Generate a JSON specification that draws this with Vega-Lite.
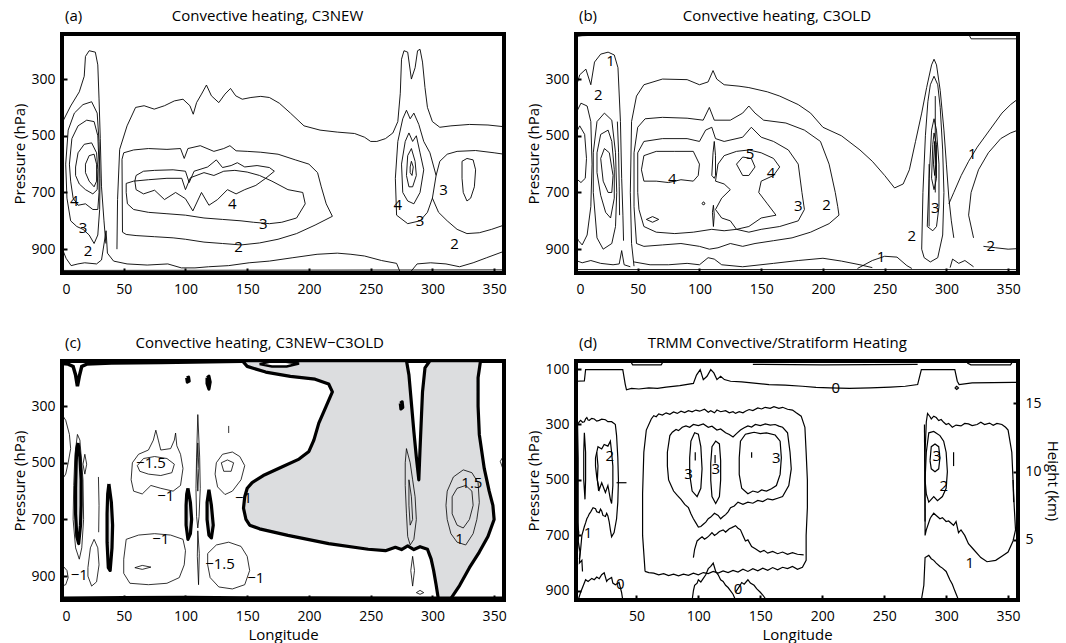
{
"$schema": "https://vega.github.io/schema/vega-lite/v6.json",
"padding": {"left": 10, "top": 7, "right": 5, "bottom": 2},
"config": {
 "font": "Open Sans",
 "view": {"stroke": "black", "strokeWidth": 4},
 "axis": {"labelFont": "Open Sans", "labelFontSize": 14, "labelColor": "black", "titleFont": "Open Sans", "titleFontSize": 15, "titleFontWeight": "normal", "titleColor": "black", "domain": false, "grid": false, "tickColor": "black", "tickWidth": 2, "tickSize": -5, "labelPadding": 12},
 "axisY": {"titlePadding": 3},
 "axisX": {"titlePadding": 4, "labelPadding": 14},
 "title": {"font": "Open Sans", "fontSize": 15, "fontWeight": "normal", "anchor": "start", "frame": "group", "color": "black", "offset": 10, "dx": 3},
 "text": {"font": "Open Sans", "fontSize": 15, "color": "black"}
},
"datasets": {
"A": [
{"g":"a1","x":0,"y":455},{"g":"a1","x":7,"y":395},{"g":"a1","x":14,"y":345},{"g":"a1","x":18,"y":290},{"g":"a1","x":19,"y":220},{"g":"a1","x":22,"y":200},{"g":"a1","x":27,"y":205},{"g":"a1","x":29,"y":250},{"g":"a1","x":30,"y":370},{"g":"a1","x":31,"y":510},{"g":"a1","x":32,"y":680},{"g":"a1","x":34,"y":800},{"g":"a1","x":35.5,"y":880},
{"g":"a2","x":3,"y":600},{"g":"a2","x":5,"y":480},{"g":"a2","x":10,"y":420},{"g":"a2","x":17,"y":390},{"g":"a2","x":24,"y":380},{"g":"a2","x":28.5,"y":420},{"g":"a2","x":30,"y":520},{"g":"a2","x":30.8,"y":650},{"g":"a2","x":30.5,"y":760},{"g":"a2","x":29,"y":850},{"g":"a2","x":26,"y":880},{"g":"a2","x":22,"y":850},{"g":"a2","x":17,"y":830},{"g":"a2","x":12,"y":820},{"g":"a2","x":7,"y":800},{"g":"a2","x":4,"y":720},{"g":"a2","x":3,"y":600},
{"g":"a3","x":6,"y":600},{"g":"a3","x":8,"y":510},{"g":"a3","x":13,"y":465},{"g":"a3","x":20,"y":445},{"g":"a3","x":26,"y":450},{"g":"a3","x":29,"y":500},{"g":"a3","x":30,"y":600},{"g":"a3","x":30,"y":700},{"g":"a3","x":29,"y":760},{"g":"a3","x":25,"y":760},{"g":"a3","x":19,"y":740},{"g":"a3","x":13,"y":745},{"g":"a3","x":9,"y":720},{"g":"a3","x":7,"y":660},{"g":"a3","x":6,"y":600},
{"g":"a4","x":11,"y":610},{"g":"a4","x":13,"y":560},{"g":"a4","x":18,"y":530},{"g":"a4","x":24,"y":525},{"g":"a4","x":28,"y":560},{"g":"a4","x":29,"y":620},{"g":"a4","x":28.5,"y":690},{"g":"a4","x":25,"y":705},{"g":"a4","x":19,"y":690},{"g":"a4","x":14,"y":670},{"g":"a4","x":11,"y":640},{"g":"a4","x":11,"y":610},
{"g":"a5","x":19,"y":600},{"g":"a5","x":22,"y":570},{"g":"a5","x":26,"y":565},{"g":"a5","x":28,"y":600},{"g":"a5","x":28,"y":660},{"g":"a5","x":26,"y":680},{"g":"a5","x":22,"y":660},{"g":"a5","x":19,"y":630},{"g":"a5","x":19,"y":600},
{"g":"ab","x":0,"y":896},{"g":"ab","x":3.3,"y":932},{"g":"ab","x":7.4,"y":958},{"g":"ab","x":12.9,"y":952},{"g":"ab","x":18.4,"y":948},{"g":"ab","x":28,"y":952},{"g":"ab","x":32,"y":938},{"g":"ab","x":35.7,"y":835},{"g":"ab","x":36.8,"y":914},{"g":"ab","x":41.8,"y":942},{"g":"ab","x":52.7,"y":952},{"g":"ab","x":69,"y":956},{"g":"ab","x":85.7,"y":952},{"g":"ab","x":96.7,"y":966},{"g":"ab","x":107.7,"y":966},{"g":"ab","x":118.7,"y":962},{"g":"ab","x":135,"y":958},{"g":"ab","x":151.6,"y":948},{"g":"ab","x":168,"y":942},{"g":"ab","x":187,"y":930},{"g":"ab","x":206.6,"y":918},{"g":"ab","x":223,"y":914},{"g":"ab","x":234,"y":918},{"g":"ab","x":245,"y":924},{"g":"ab","x":258.8,"y":940},{"g":"ab","x":271,"y":950},{"g":"ab","x":274,"y":982},{"g":"ab","x":282,"y":982},{"g":"ab","x":287.6,"y":952},{"g":"ab","x":298.6,"y":948},{"g":"ab","x":311,"y":952},{"g":"ab","x":322,"y":962},{"g":"ab","x":333,"y":948},{"g":"ab","x":344,"y":930},{"g":"ab","x":357.7,"y":908},
{"g":"ag","x":0,"y":975},{"g":"ag","x":358,"y":973},
{"g":"at","x":44.5,"y":900},{"g":"at","x":45,"y":725},{"g":"at","x":46.7,"y":548},{"g":"at","x":52.7,"y":465},{"g":"at","x":59.6,"y":400},{"g":"at","x":66.5,"y":394},{"g":"at","x":74.7,"y":406},{"g":"at","x":83,"y":394},{"g":"at","x":91,"y":377},{"g":"at","x":98,"y":371},{"g":"at","x":103.6,"y":394},{"g":"at","x":106.3,"y":424},{"g":"at","x":109,"y":383},{"g":"at","x":113,"y":353},{"g":"at","x":117,"y":321},{"g":"at","x":121,"y":359},{"g":"at","x":127,"y":383},{"g":"at","x":132,"y":353},{"g":"at","x":136.5,"y":333},{"g":"at","x":140.7,"y":359},{"g":"at","x":146,"y":371},{"g":"at","x":153,"y":365},{"g":"at","x":161,"y":361},{"g":"at","x":168,"y":365},{"g":"at","x":176,"y":385},{"g":"at","x":185,"y":420},{"g":"at","x":196,"y":465},{"g":"at","x":209,"y":480},{"g":"at","x":223,"y":487},{"g":"at","x":237,"y":492},{"g":"at","x":245,"y":505},{"g":"at","x":250,"y":520},{"g":"at","x":255,"y":520},{"g":"at","x":262,"y":510},{"g":"at","x":268,"y":490},{"g":"at","x":272,"y":450},{"g":"at","x":274,"y":350},{"g":"at","x":275,"y":230},{"g":"at","x":277,"y":200},{"g":"at","x":280,"y":205},{"g":"at","x":283,"y":300},{"g":"at","x":286,"y":260},{"g":"at","x":288,"y":200},{"g":"at","x":290,"y":195},{"g":"at","x":292,"y":240},{"g":"at","x":294,"y":330},{"g":"at","x":296,"y":400},{"g":"at","x":300,"y":450},{"g":"at","x":306,"y":470},{"g":"at","x":315,"y":465},{"g":"at","x":330,"y":460},{"g":"at","x":345,"y":462},{"g":"at","x":358,"y":468},
{"g":"am2","x":49,"y":840},{"g":"am2","x":48.6,"y":583},{"g":"am2","x":50,"y":560},{"g":"am2","x":58,"y":550},{"g":"am2","x":70,"y":545},{"g":"am2","x":85,"y":548},{"g":"am2","x":96,"y":545},{"g":"am2","x":99,"y":580},{"g":"am2","x":102,"y":545},{"g":"am2","x":112,"y":535},{"g":"am2","x":123,"y":555},{"g":"am2","x":131,"y":545},{"g":"am2","x":136,"y":535},{"g":"am2","x":141,"y":553},{"g":"am2","x":150,"y":555},{"g":"am2","x":161,"y":558},{"g":"am2","x":175,"y":565},{"g":"am2","x":189,"y":585},{"g":"am2","x":200,"y":600},{"g":"am2","x":207,"y":630},{"g":"am2","x":210,"y":680},{"g":"am2","x":214,"y":740},{"g":"am2","x":219,"y":784},{"g":"am2","x":205,"y":815},{"g":"am2","x":190,"y":845},{"g":"am2","x":175,"y":865},{"g":"am2","x":160,"y":878},{"g":"am2","x":145,"y":885},{"g":"am2","x":130,"y":880},{"g":"am2","x":115,"y":875},{"g":"am2","x":100,"y":865},{"g":"am2","x":90,"y":860},{"g":"am2","x":75,"y":856},{"g":"am2","x":60,"y":852},{"g":"am2","x":52,"y":848},{"g":"am2","x":49,"y":840},
{"g":"am3","x":52,"y":700},{"g":"am3","x":52,"y":668},{"g":"am3","x":58,"y":660},{"g":"am3","x":70,"y":655},{"g":"am3","x":85,"y":650},{"g":"am3","x":97,"y":650},{"g":"am3","x":100,"y":690},{"g":"am3","x":104,"y":648},{"g":"am3","x":115,"y":630},{"g":"am3","x":123,"y":640},{"g":"am3","x":131,"y":625},{"g":"am3","x":140,"y":622},{"g":"am3","x":150,"y":628},{"g":"am3","x":160,"y":640},{"g":"am3","x":170,"y":660},{"g":"am3","x":183,"y":690},{"g":"am3","x":195,"y":700},{"g":"am3","x":197,"y":740},{"g":"am3","x":190,"y":790},{"g":"am3","x":178,"y":805},{"g":"am3","x":168,"y":810},{"g":"am3","x":155,"y":805},{"g":"am3","x":145,"y":800},{"g":"am3","x":130,"y":795},{"g":"am3","x":115,"y":790},{"g":"am3","x":100,"y":780},{"g":"am3","x":85,"y":775},{"g":"am3","x":70,"y":770},{"g":"am3","x":58,"y":760},{"g":"am3","x":53,"y":740},{"g":"am3","x":52,"y":700},
{"g":"am4","x":60,"y":640},{"g":"am4","x":66,"y":625},{"g":"am4","x":75,"y":622},{"g":"am4","x":90,"y":620},{"g":"am4","x":100,"y":625},{"g":"am4","x":103,"y":665},{"g":"am4","x":107,"y":625},{"g":"am4","x":118,"y":610},{"g":"am4","x":125,"y":585},{"g":"am4","x":130,"y":612},{"g":"am4","x":137,"y":605},{"g":"am4","x":142,"y":595},{"g":"am4","x":148,"y":610},{"g":"am4","x":158,"y":605},{"g":"am4","x":168,"y":612},{"g":"am4","x":172,"y":625},{"g":"am4","x":165,"y":650},{"g":"am4","x":157,"y":675},{"g":"am4","x":148,"y":690},{"g":"am4","x":141,"y":705},{"g":"am4","x":134,"y":690},{"g":"am4","x":126,"y":725},{"g":"am4","x":119,"y":745},{"g":"am4","x":113,"y":700},{"g":"am4","x":106,"y":765},{"g":"am4","x":100,"y":722},{"g":"am4","x":92,"y":700},{"g":"am4","x":83,"y":725},{"g":"am4","x":75,"y":692},{"g":"am4","x":66,"y":705},{"g":"am4","x":60,"y":690},{"g":"am4","x":59,"y":660},{"g":"am4","x":60,"y":640},
{"g":"ar2","x":271,"y":780},{"g":"ar2","x":270,"y":650},{"g":"ar2","x":272,"y":520},{"g":"ar2","x":276,"y":440},{"g":"ar2","x":279,"y":410},{"g":"ar2","x":282,"y":440},{"g":"ar2","x":285,"y":420},{"g":"ar2","x":289,"y":460},{"g":"ar2","x":293,"y":520},{"g":"ar2","x":298,"y":560},{"g":"ar2","x":303,"y":640},{"g":"ar2","x":300,"y":720},{"g":"ar2","x":296,"y":770},{"g":"ar2","x":290,"y":800},{"g":"ar2","x":280,"y":810},{"g":"ar2","x":271,"y":780},
{"g":"ar3","x":276,"y":700},{"g":"ar3","x":275,"y":600},{"g":"ar3","x":278,"y":520},{"g":"ar3","x":281,"y":490},{"g":"ar3","x":284,"y":520},{"g":"ar3","x":287,"y":500},{"g":"ar3","x":290,"y":560},{"g":"ar3","x":293,"y":620},{"g":"ar3","x":290,"y":700},{"g":"ar3","x":285,"y":740},{"g":"ar3","x":280,"y":730},{"g":"ar3","x":276,"y":700},
{"g":"ar4","x":279,"y":640},{"g":"ar4","x":280,"y":570},{"g":"ar4","x":283,"y":545},{"g":"ar4","x":286,"y":590},{"g":"ar4","x":287,"y":640},{"g":"ar4","x":284,"y":680},{"g":"ar4","x":281,"y":680},{"g":"ar4","x":279,"y":640},
{"g":"ar5","x":282,"y":610},{"g":"ar5","x":283,"y":590},{"g":"ar5","x":284.5,"y":610},{"g":"ar5","x":283.5,"y":640},{"g":"ar5","x":282,"y":630},{"g":"ar5","x":282,"y":610},
{"g":"arr3","x":324,"y":590},{"g":"arr3","x":328,"y":580},{"g":"arr3","x":333,"y":585},{"g":"arr3","x":335,"y":620},{"g":"arr3","x":334,"y":680},{"g":"arr3","x":331,"y":720},{"g":"arr3","x":328,"y":730},{"g":"arr3","x":325,"y":700},{"g":"arr3","x":324,"y":650},{"g":"arr3","x":324,"y":590},
{"g":"arr2","x":303,"y":640},{"g":"arr2","x":306,"y":590},{"g":"arr2","x":312,"y":565},{"g":"arr2","x":320,"y":555},{"g":"arr2","x":335,"y":552},{"g":"arr2","x":350,"y":560},{"g":"arr2","x":358,"y":565},
{"g":"arr2b","x":300,"y":720},{"g":"arr2b","x":305,"y":770},{"g":"arr2b","x":312,"y":800},{"g":"arr2b","x":320,"y":830},{"g":"arr2b","x":328,"y":845},{"g":"arr2b","x":338,"y":842},{"g":"arr2b","x":348,"y":830},{"g":"arr2b","x":358,"y":815}
],
"B": [
{"g":"btl","x":0,"y":150},{"g":"btl","x":5,"y":147},{"g":"btl","x":12,"y":146},
{"g":"btr","x":318,"y":141},{"g":"btr","x":320,"y":158},{"g":"btr","x":358,"y":158},
{"g":"bl1","x":0,"y":330},{"g":"bl1","x":3,"y":285},{"g":"bl1","x":8,"y":265},{"g":"bl1","x":12,"y":320},{"g":"bl1","x":15,"y":240},{"g":"bl1","x":20,"y":212},{"g":"bl1","x":26,"y":205},{"g":"bl1","x":31,"y":215},{"g":"bl1","x":34,"y":260},{"g":"bl1","x":36,"y":450},{"g":"bl1","x":37,"y":650},{"g":"bl1","x":38,"y":780},{"g":"bl1","x":38.5,"y":870},
{"g":"bll2","x":0,"y":420},{"g":"bll2","x":4,"y":385},{"g":"bll2","x":9,"y":395},{"g":"bll2","x":12,"y":450},{"g":"bll2","x":13,"y":600},{"g":"bll2","x":12,"y":750},{"g":"bll2","x":9,"y":850},{"g":"bll2","x":5,"y":885},{"g":"bll2","x":2,"y":870},{"g":"bll2","x":0,"y":850},
{"g":"bll3","x":0,"y":490},{"g":"bll3","x":3,"y":465},{"g":"bll3","x":7,"y":495},{"g":"bll3","x":8.5,"y":580},{"g":"bll3","x":7.5,"y":650},{"g":"bll3","x":4,"y":665},{"g":"bll3","x":0,"y":650},
{"g":"blr2","x":14,"y":560},{"g":"blr2","x":17,"y":450},{"g":"blr2","x":23,"y":420},{"g":"blr2","x":29,"y":445},{"g":"blr2","x":32,"y":560},{"g":"blr2","x":33,"y":700},{"g":"blr2","x":32,"y":820},{"g":"blr2","x":29,"y":880},{"g":"blr2","x":22,"y":900},{"g":"blr2","x":17,"y":860},{"g":"blr2","x":14,"y":700},{"g":"blr2","x":14,"y":560},
{"g":"blr3","x":17,"y":560},{"g":"blr3","x":20,"y":495},{"g":"blr3","x":26,"y":480},{"g":"blr3","x":29,"y":520},{"g":"blr3","x":31,"y":620},{"g":"blr3","x":31,"y":720},{"g":"blr3","x":28,"y":790},{"g":"blr3","x":24,"y":770},{"g":"blr3","x":20,"y":710},{"g":"blr3","x":17,"y":630},{"g":"blr3","x":17,"y":560},
{"g":"blr4","x":20,"y":580},{"g":"blr4","x":23,"y":545},{"g":"blr4","x":27,"y":560},{"g":"blr4","x":30,"y":640},{"g":"blr4","x":29,"y":700},{"g":"blr4","x":26,"y":700},{"g":"blr4","x":22,"y":660},{"g":"blr4","x":20,"y":580},
{"g":"blx","x":33.5,"y":450},{"g":"blx","x":34.5,"y":560},{"g":"blx","x":35,"y":680},{"g":"blx","x":35.3,"y":780},
{"g":"bbl","x":0,"y":940},{"g":"bbl","x":5,"y":948},{"g":"bbl","x":12,"y":940},{"g":"bbl","x":20,"y":950},{"g":"bbl","x":30,"y":955},{"g":"bbl","x":35,"y":952},{"g":"bbl","x":37,"y":905},{"g":"bbl","x":39,"y":955},{"g":"bbl","x":44,"y":962},
{"g":"bm1","x":47,"y":960},{"g":"bm1","x":45,"y":880},{"g":"bm1","x":44,"y":700},{"g":"bm1","x":45,"y":450},{"g":"bm1","x":49,"y":360},{"g":"bm1","x":55,"y":320},{"g":"bm1","x":70,"y":300},{"g":"bm1","x":90,"y":302},{"g":"bm1","x":100,"y":320},{"g":"bm1","x":107,"y":310},{"g":"bm1","x":111,"y":270},{"g":"bm1","x":114,"y":300},{"g":"bm1","x":120,"y":320},{"g":"bm1","x":132,"y":325},{"g":"bm1","x":140,"y":330},{"g":"bm1","x":155,"y":345},{"g":"bm1","x":165,"y":360},{"g":"bm1","x":180,"y":390},{"g":"bm1","x":190,"y":420},{"g":"bm1","x":200,"y":470},{"g":"bm1","x":215,"y":500},{"g":"bm1","x":230,"y":550},{"g":"bm1","x":240,"y":590},{"g":"bm1","x":250,"y":640},{"g":"bm1","x":258,"y":684},{"g":"bm1","x":265,"y":670},{"g":"bm1","x":270,"y":620},{"g":"bm1","x":275,"y":520},{"g":"bm1","x":280,"y":420},{"g":"bm1","x":284,"y":330},{"g":"bm1","x":288,"y":250},{"g":"bm1","x":290,"y":230},{"g":"bm1","x":292,"y":250},{"g":"bm1","x":295,"y":340},{"g":"bm1","x":298,"y":480},{"g":"bm1","x":300,"y":600},{"g":"bm1","x":302,"y":720},{"g":"bm1","x":304,"y":800},{"g":"bm1","x":306,"y":860},
{"g":"br1","x":302,"y":740},{"g":"br1","x":306,"y":700},{"g":"br1","x":312,"y":640},{"g":"br1","x":318,"y":590},{"g":"br1","x":325,"y":540},{"g":"br1","x":335,"y":480},{"g":"br1","x":345,"y":420},{"g":"br1","x":352,"y":390},{"g":"br1","x":358,"y":370},
{"g":"br2","x":322,"y":860},{"g":"br2","x":318,"y":780},{"g":"br2","x":320,"y":700},{"g":"br2","x":326,"y":620},{"g":"br2","x":334,"y":560},{"g":"br2","x":344,"y":510},{"g":"br2","x":352,"y":490},{"g":"br2","x":358,"y":480},
{"g":"br2b","x":330,"y":890},{"g":"br2b","x":340,"y":895},{"g":"br2b","x":350,"y":900},{"g":"br2b","x":358,"y":898},
{"g":"bm2","x":49,"y":880},{"g":"bm2","x":47,"y":750},{"g":"bm2","x":47,"y":560},{"g":"bm2","x":50,"y":470},{"g":"bm2","x":56,"y":440},{"g":"bm2","x":70,"y":435},{"g":"bm2","x":90,"y":438},{"g":"bm2","x":103,"y":445},{"g":"bm2","x":108,"y":400},{"g":"bm2","x":112,"y":445},{"g":"bm2","x":125,"y":445},{"g":"bm2","x":135,"y":420},{"g":"bm2","x":140,"y":395},{"g":"bm2","x":145,"y":420},{"g":"bm2","x":152,"y":445},{"g":"bm2","x":170,"y":455},{"g":"bm2","x":185,"y":480},{"g":"bm2","x":198,"y":520},{"g":"bm2","x":205,"y":600},{"g":"bm2","x":210,"y":700},{"g":"bm2","x":212,"y":750},{"g":"bm2","x":213,"y":780},{"g":"bm2","x":205,"y":810},{"g":"bm2","x":190,"y":840},{"g":"bm2","x":175,"y":860},{"g":"bm2","x":160,"y":870},{"g":"bm2","x":145,"y":880},{"g":"bm2","x":135,"y":890},{"g":"bm2","x":125,"y":880},{"g":"bm2","x":115,"y":895},{"g":"bm2","x":108,"y":900},{"g":"bm2","x":100,"y":890},{"g":"bm2","x":85,"y":880},{"g":"bm2","x":70,"y":885},{"g":"bm2","x":55,"y":890},{"g":"bm2","x":49,"y":880},
{"g":"bm3","x":50,"y":700},{"g":"bm3","x":50,"y":560},{"g":"bm3","x":55,"y":520},{"g":"bm3","x":70,"y":510},{"g":"bm3","x":90,"y":510},{"g":"bm3","x":100,"y":520},{"g":"bm3","x":105,"y":480},{"g":"bm3","x":110,"y":470},{"g":"bm3","x":113,"y":510},{"g":"bm3","x":120,"y":520},{"g":"bm3","x":135,"y":505},{"g":"bm3","x":142,"y":470},{"g":"bm3","x":150,"y":505},{"g":"bm3","x":160,"y":520},{"g":"bm3","x":172,"y":550},{"g":"bm3","x":180,"y":600},{"g":"bm3","x":183,"y":700},{"g":"bm3","x":185,"y":760},{"g":"bm3","x":180,"y":800},{"g":"bm3","x":165,"y":820},{"g":"bm3","x":150,"y":830},{"g":"bm3","x":140,"y":840},{"g":"bm3","x":130,"y":830},{"g":"bm3","x":120,"y":835},{"g":"bm3","x":110,"y":830},{"g":"bm3","x":95,"y":840},{"g":"bm3","x":80,"y":845},{"g":"bm3","x":65,"y":840},{"g":"bm3","x":55,"y":820},{"g":"bm3","x":51,"y":760},{"g":"bm3","x":50,"y":700},
{"g":"bm4","x":53,"y":620},{"g":"bm4","x":55,"y":570},{"g":"bm4","x":65,"y":555},{"g":"bm4","x":80,"y":555},{"g":"bm4","x":95,"y":555},{"g":"bm4","x":100,"y":600},{"g":"bm4","x":99,"y":640},{"g":"bm4","x":95,"y":660},{"g":"bm4","x":85,"y":655},{"g":"bm4","x":75,"y":665},{"g":"bm4","x":65,"y":660},{"g":"bm4","x":55,"y":660},{"g":"bm4","x":53,"y":620},
{"g":"bm4b","x":113,"y":660},{"g":"bm4b","x":115,"y":600},{"g":"bm4b","x":120,"y":570},{"g":"bm4b","x":130,"y":555},{"g":"bm4b","x":140,"y":550},{"g":"bm4b","x":150,"y":560},{"g":"bm4b","x":160,"y":580},{"g":"bm4b","x":165,"y":610},{"g":"bm4b","x":160,"y":640},{"g":"bm4b","x":150,"y":660},{"g":"bm4b","x":148,"y":700},{"g":"bm4b","x":155,"y":740},{"g":"bm4b","x":162,"y":780},{"g":"bm4b","x":150,"y":790},{"g":"bm4b","x":140,"y":820},{"g":"bm4b","x":130,"y":830},{"g":"bm4b","x":125,"y":800},{"g":"bm4b","x":118,"y":790},{"g":"bm4b","x":113,"y":760},{"g":"bm4b","x":118,"y":720},{"g":"bm4b","x":125,"y":690},{"g":"bm4b","x":120,"y":670},{"g":"bm4b","x":113,"y":660},
{"g":"bm5","x":130,"y":600},{"g":"bm5","x":135,"y":575},{"g":"bm5","x":142,"y":580},{"g":"bm5","x":145,"y":610},{"g":"bm5","x":140,"y":640},{"g":"bm5","x":135,"y":640},{"g":"bm5","x":130,"y":600},
{"g":"bs1","x":57,"y":795},{"g":"bs1","x":62,"y":785},{"g":"bs1","x":67,"y":795},{"g":"bs1","x":62,"y":805},{"g":"bs1","x":57,"y":795},
{"g":"bs2","x":102,"y":738},{"g":"bs2","x":103.5,"y":733},{"g":"bs2","x":104.5,"y":740},{"g":"bs2","x":103,"y":744},{"g":"bs2","x":102,"y":738},
{"g":"bln1","x":110,"y":640},{"g":"bln1","x":111,"y":560},{"g":"bln1","x":112,"y":520},{"g":"bln1","x":113,"y":570},{"g":"bln1","x":113,"y":640},{"g":"bln1","x":112,"y":650},{"g":"bln1","x":110,"y":640},
{"g":"bln2","x":110.5,"y":770},{"g":"bln2","x":111.3,"y":745},{"g":"bln2","x":112,"y":780},{"g":"bln2","x":111.3,"y":820},{"g":"bln2","x":110.5,"y":770},
{"g":"bbm","x":47,"y":945},{"g":"bbm","x":60,"y":955},{"g":"bbm","x":75,"y":955},{"g":"bbm","x":90,"y":950},{"g":"bbm","x":100,"y":955},{"g":"bbm","x":107,"y":930},{"g":"bbm","x":112,"y":935},{"g":"bbm","x":118,"y":955},{"g":"bbm","x":135,"y":962},{"g":"bbm","x":160,"y":950},{"g":"bbm","x":180,"y":940},{"g":"bbm","x":200,"y":932},{"g":"bbm","x":215,"y":942},{"g":"bbm","x":230,"y":955},{"g":"bbm","x":240,"y":965},
{"g":"bbu","x":228,"y":968},{"g":"bbu","x":240,"y":940},{"g":"bbu","x":250,"y":925},{"g":"bbu","x":260,"y":928},{"g":"bbu","x":268,"y":958},{"g":"bbu","x":272,"y":968},
{"g":"bbr","x":303,"y":965},{"g":"bbr","x":305,"y":935},{"g":"bbr","x":310,"y":950},{"g":"bbr","x":315,"y":940},{"g":"bbr","x":322,"y":962},
{"g":"bgr","x":0,"y":972},{"g":"bgr","x":358,"y":972},
{"g":"brc2","x":280,"y":900},{"g":"brc2","x":281,"y":700},{"g":"brc2","x":283,"y":500},{"g":"brc2","x":285,"y":380},{"g":"brc2","x":287,"y":320},{"g":"brc2","x":290,"y":290},{"g":"brc2","x":293,"y":320},{"g":"brc2","x":295,"y":400},{"g":"brc2","x":297,"y":550},{"g":"brc2","x":298,"y":700},{"g":"brc2","x":297,"y":850},{"g":"brc2","x":293,"y":930},{"g":"brc2","x":287,"y":945},{"g":"brc2","x":282,"y":930},{"g":"brc2","x":280,"y":900},
{"g":"brc3","x":284.5,"y":820},{"g":"brc3","x":286,"y":650},{"g":"brc3","x":288,"y":480},{"g":"brc3","x":290,"y":440},{"g":"brc3","x":292,"y":480},{"g":"brc3","x":294,"y":600},{"g":"brc3","x":294,"y":750},{"g":"brc3","x":292,"y":820},{"g":"brc3","x":289,"y":835},{"g":"brc3","x":284.5,"y":820},
{"g":"brc4","x":288,"y":650},{"g":"brc4","x":289,"y":530},{"g":"brc4","x":290,"y":490},{"g":"brc4","x":292,"y":530},{"g":"brc4","x":292,"y":650},{"g":"brc4","x":290,"y":690},{"g":"brc4","x":288,"y":650},
{"g":"brc5","x":289.5,"y":600},{"g":"brc5","x":290.5,"y":520},{"g":"brc5","x":291.5,"y":600},{"g":"brc5","x":290.5,"y":640},{"g":"brc5","x":289.5,"y":600},
{"g":"brl1","x":291,"y":360},{"g":"brl1","x":291,"y":700},
{"g":"brl2","x":286,"y":600},{"g":"brl2","x":286,"y":820}
],
"CF": [
{"g":"f1","x":146,"y":140},{"g":"f1","x":150,"y":160},{"g":"f1","x":165,"y":180},{"g":"f1","x":185,"y":195},{"g":"f1","x":205,"y":205},{"g":"f1","x":216,"y":222},{"g":"f1","x":219,"y":250},{"g":"f1","x":214,"y":300},{"g":"f1","x":208,"y":360},{"g":"f1","x":204,"y":420},{"g":"f1","x":200,"y":460},{"g":"f1","x":192,"y":487},{"g":"f1","x":178,"y":515},{"g":"f1","x":163,"y":545},{"g":"f1","x":154,"y":570},{"g":"f1","x":150,"y":590},{"g":"f1","x":148,"y":620},{"g":"f1","x":147,"y":660},{"g":"f1","x":149,"y":700},{"g":"f1","x":152,"y":720},{"g":"f1","x":160,"y":733},{"g":"f1","x":183,"y":756},{"g":"f1","x":216,"y":785},{"g":"f1","x":248,"y":805},{"g":"f1","x":262,"y":810},{"g":"f1","x":270,"y":798},{"g":"f1","x":275,"y":806},{"g":"f1","x":280,"y":793},{"g":"f1","x":285,"y":806},{"g":"f1","x":290,"y":796},{"g":"f1","x":296,"y":805},{"g":"f1","x":299,"y":840},{"g":"f1","x":301,"y":880},{"g":"f1","x":303,"y":930},{"g":"f1","x":305,"y":985},{"g":"f1","x":314,"y":985},{"g":"f1","x":322,"y":933},{"g":"f1","x":330,"y":870},{"g":"f1","x":338,"y":815},{"g":"f1","x":345,"y":760},{"g":"f1","x":350,"y":700},{"g":"f1","x":349,"y":650},{"g":"f1","x":346,"y":600},{"g":"f1","x":342,"y":520},{"g":"f1","x":338,"y":400},{"g":"f1","x":337,"y":300},{"g":"f1","x":337,"y":200},{"g":"f1","x":339,"y":140},{"g":"f1","x":298,"y":140},{"g":"f1","x":294,"y":165},{"g":"f1","x":292,"y":250},{"g":"f1","x":291,"y":350},{"g":"f1","x":290,"y":450},{"g":"f1","x":289,"y":560},{"g":"f1","x":287,"y":480},{"g":"f1","x":285,"y":390},{"g":"f1","x":283,"y":290},{"g":"f1","x":281,"y":190},{"g":"f1","x":279,"y":140},{"g":"f1","x":146,"y":140},
{"g":"l1","x":13,"y":430},{"g":"l1","x":14.5,"y":480},{"g":"l1","x":15.5,"y":560},{"g":"l1","x":15.5,"y":650},{"g":"l1","x":15,"y":720},{"g":"l1","x":13.5,"y":785},{"g":"l1","x":12,"y":760},{"g":"l1","x":11,"y":680},{"g":"l1","x":11,"y":590},{"g":"l1","x":11.5,"y":500},{"g":"l1","x":12,"y":450},{"g":"l1","x":13,"y":430},
{"g":"l2","x":38,"y":575},{"g":"l2","x":40,"y":640},{"g":"l2","x":41,"y":720},{"g":"l2","x":40.5,"y":800},{"g":"l2","x":39,"y":880},{"g":"l2","x":37.5,"y":870},{"g":"l2","x":36.5,"y":780},{"g":"l2","x":36.5,"y":680},{"g":"l2","x":37,"y":610},{"g":"l2","x":38,"y":575},
{"g":"l3","x":102,"y":590},{"g":"l3","x":104,"y":640},{"g":"l3","x":105,"y":700},{"g":"l3","x":104,"y":750},{"g":"l3","x":102,"y":770},{"g":"l3","x":100.5,"y":720},{"g":"l3","x":100.5,"y":650},{"g":"l3","x":101,"y":610},{"g":"l3","x":102,"y":590},
{"g":"l4","x":119,"y":595},{"g":"l4","x":121,"y":650},{"g":"l4","x":122.5,"y":720},{"g":"l4","x":121,"y":765},{"g":"l4","x":119,"y":755},{"g":"l4","x":117.5,"y":700},{"g":"l4","x":117.5,"y":640},{"g":"l4","x":119,"y":595},
{"g":"d1","x":101,"y":200},{"g":"d1","x":102.5,"y":198},{"g":"d1","x":103,"y":212},{"g":"d1","x":101.5,"y":215},{"g":"d1","x":101,"y":200},
{"g":"d2","x":117.5,"y":200},{"g":"d2","x":119,"y":195},{"g":"d2","x":120,"y":215},{"g":"d2","x":119,"y":240},{"g":"d2","x":117.5,"y":220},{"g":"d2","x":117.5,"y":200},
{"g":"d3","x":274,"y":290},{"g":"d3","x":275.5,"y":285},{"g":"d3","x":276,"y":305},{"g":"d3","x":274.5,"y":310},{"g":"d3","x":274,"y":290}
],
"CW": [
{"g":"w1","x":160,"y":152},{"g":"w1","x":168,"y":144},{"g":"w1","x":180,"y":143},{"g":"w1","x":192,"y":150},{"g":"w1","x":182,"y":160},{"g":"w1","x":170,"y":160},{"g":"w1","x":160,"y":152}
],
"CT": [
{"g":"t1","x":0,"y":150},{"g":"t1","x":5,"y":152},{"g":"t1","x":9,"y":160},{"g":"t1","x":11,"y":190},{"g":"t1","x":12.5,"y":230},{"g":"t1","x":14,"y":195},{"g":"t1","x":16,"y":160},{"g":"t1","x":20,"y":152},{"g":"t1","x":40,"y":148},{"g":"t1","x":80,"y":146},{"g":"t1","x":146,"y":142},
{"g":"t2","x":0,"y":978},{"g":"t2","x":50,"y":976},{"g":"t2","x":100,"y":975},{"g":"t2","x":150,"y":977},{"g":"t2","x":200,"y":977},{"g":"t2","x":305,"y":978},{"g":"t2","x":358,"y":978}
],
"C": [
{"g":"c1","x":57,"y":500},{"g":"c1","x":62,"y":470},{"g":"c1","x":70,"y":455},{"g":"c1","x":74,"y":420},{"g":"c1","x":76,"y":385},{"g":"c1","x":78,"y":420},{"g":"c1","x":80,"y":455},{"g":"c1","x":88,"y":450},{"g":"c1","x":91,"y":420},{"g":"c1","x":92,"y":395},{"g":"c1","x":93,"y":440},{"g":"c1","x":96,"y":470},{"g":"c1","x":98,"y":520},{"g":"c1","x":96,"y":580},{"g":"c1","x":90,"y":600},{"g":"c1","x":80,"y":590},{"g":"c1","x":72,"y":580},{"g":"c1","x":65,"y":610},{"g":"c1","x":58,"y":600},{"g":"c1","x":56,"y":560},{"g":"c1","x":57,"y":500},
{"g":"c2","x":61,"y":510},{"g":"c2","x":66,"y":485},{"g":"c2","x":75,"y":478},{"g":"c2","x":85,"y":485},{"g":"c2","x":91,"y":505},{"g":"c2","x":89,"y":535},{"g":"c2","x":80,"y":545},{"g":"c2","x":70,"y":540},{"g":"c2","x":63,"y":530},{"g":"c2","x":61,"y":510},
{"g":"c4","x":50,"y":840},{"g":"c4","x":52,"y":770},{"g":"c4","x":62,"y":755},{"g":"c4","x":75,"y":750},{"g":"c4","x":88,"y":755},{"g":"c4","x":98,"y":770},{"g":"c4","x":100,"y":810},{"g":"c4","x":99,"y":860},{"g":"c4","x":95,"y":905},{"g":"c4","x":85,"y":925},{"g":"c4","x":70,"y":930},{"g":"c4","x":55,"y":925},{"g":"c4","x":50,"y":890},{"g":"c4","x":50,"y":840},
{"g":"c5","x":59,"y":870},{"g":"c5","x":65,"y":862},{"g":"c5","x":72,"y":868},{"g":"c5","x":65,"y":876},{"g":"c5","x":59,"y":870},
{"g":"c6","x":110,"y":330},{"g":"c6","x":111.5,"y":480},{"g":"c6","x":112,"y":590},{"g":"c6","x":111,"y":690},{"g":"c6","x":110,"y":730},{"g":"c6","x":109,"y":690},{"g":"c6","x":108.5,"y":590},{"g":"c6","x":109,"y":480},{"g":"c6","x":110,"y":330},
{"g":"c6b","x":110,"y":740},{"g":"c6b","x":111.2,"y":820},{"g":"c6b","x":110.6,"y":930},{"g":"c6b","x":109.6,"y":830},{"g":"c6b","x":110,"y":740},
{"g":"c6c","x":110,"y":430},{"g":"c6c","x":110.8,"y":520},{"g":"c6c","x":110,"y":600},{"g":"c6c","x":109.3,"y":520},{"g":"c6c","x":110,"y":430},
{"g":"c7","x":125,"y":500},{"g":"c7","x":130,"y":470},{"g":"c7","x":138,"y":462},{"g":"c7","x":144,"y":478},{"g":"c7","x":148,"y":510},{"g":"c7","x":145,"y":560},{"g":"c7","x":138,"y":600},{"g":"c7","x":132,"y":612},{"g":"c7","x":126,"y":585},{"g":"c7","x":124,"y":540},{"g":"c7","x":125,"y":500},
{"g":"c8","x":129,"y":500},{"g":"c8","x":134,"y":490},{"g":"c8","x":139,"y":500},{"g":"c8","x":137,"y":530},{"g":"c8","x":131,"y":530},{"g":"c8","x":129,"y":500},
{"g":"c9","x":118,"y":820},{"g":"c9","x":125,"y":790},{"g":"c9","x":135,"y":780},{"g":"c9","x":145,"y":795},{"g":"c9","x":150,"y":830},{"g":"c9","x":152,"y":880},{"g":"c9","x":148,"y":930},{"g":"c9","x":138,"y":945},{"g":"c9","x":127,"y":938},{"g":"c9","x":120,"y":905},{"g":"c9","x":118,"y":860},{"g":"c9","x":118,"y":820},
{"g":"c10","x":135,"y":370},{"g":"c10","x":135,"y":395},
{"g":"c11","x":0,"y":330},{"g":"c11","x":3,"y":350},{"g":"c11","x":6,"y":400},{"g":"c11","x":7,"y":450},{"g":"c11","x":5,"y":500},{"g":"c11","x":3,"y":540},{"g":"c11","x":0,"y":560},
{"g":"c12","x":17,"y":505},{"g":"c12","x":18.5,"y":470},{"g":"c12","x":20,"y":505},{"g":"c12","x":18.5,"y":540},{"g":"c12","x":17,"y":505},
{"g":"c13","x":0,"y":860},{"g":"c13","x":4,"y":880},{"g":"c13","x":5,"y":905},{"g":"c13","x":3,"y":930},{"g":"c13","x":0,"y":935},
{"g":"c14","x":9,"y":700},{"g":"c14","x":9.5,"y":580},{"g":"c14","x":10.5,"y":470},{"g":"c14","x":12.5,"y":400},{"g":"c14","x":14.5,"y":420},{"g":"c14","x":17,"y":560},{"g":"c14","x":17.5,"y":700},{"g":"c14","x":16,"y":800},{"g":"c14","x":14,"y":840},{"g":"c14","x":11,"y":800},{"g":"c14","x":9,"y":700},
{"g":"c15","x":21,"y":870},{"g":"c15","x":23,"y":800},{"g":"c15","x":26,"y":770},{"g":"c15","x":29,"y":800},{"g":"c15","x":30,"y":860},{"g":"c15","x":28,"y":920},{"g":"c15","x":24,"y":935},{"g":"c15","x":21,"y":900},{"g":"c15","x":21,"y":870},
{"g":"c16","x":29.5,"y":550},{"g":"c16","x":30,"y":650},{"g":"c16","x":29.7,"y":745},
{"g":"cr1","x":279,"y":450},{"g":"cr1","x":282,"y":500},{"g":"cr1","x":284,"y":560},{"g":"cr1","x":286,"y":620},{"g":"cr1","x":287,"y":700},{"g":"cr1","x":285,"y":770},{"g":"cr1","x":282,"y":790},{"g":"cr1","x":280,"y":760},{"g":"cr1","x":279,"y":680},{"g":"cr1","x":278,"y":580},{"g":"cr1","x":278,"y":500},{"g":"cr1","x":279,"y":450},
{"g":"cr1b","x":281,"y":560},{"g":"cr1b","x":283,"y":620},{"g":"cr1b","x":284,"y":700},{"g":"cr1b","x":282,"y":720},{"g":"cr1b","x":281,"y":650},{"g":"cr1b","x":281,"y":560},
{"g":"cr2","x":284,"y":830},{"g":"cr2","x":285.5,"y":880},{"g":"cr2","x":284,"y":935},{"g":"cr2","x":282.5,"y":880},{"g":"cr2","x":284,"y":830},
{"g":"cr3","x":312,"y":600},{"g":"cr3","x":317,"y":550},{"g":"cr3","x":325,"y":525},{"g":"cr3","x":332,"y":535},{"g":"cr3","x":337,"y":570},{"g":"cr3","x":338,"y":640},{"g":"cr3","x":336,"y":700},{"g":"cr3","x":333,"y":750},{"g":"cr3","x":327,"y":790},{"g":"cr3","x":320,"y":780},{"g":"cr3","x":315,"y":750},{"g":"cr3","x":312,"y":700},{"g":"cr3","x":311,"y":650},{"g":"cr3","x":312,"y":600},
{"g":"cr3b","x":316,"y":620},{"g":"cr3b","x":320,"y":590},{"g":"cr3b","x":327,"y":580},{"g":"cr3b","x":332,"y":600},{"g":"cr3b","x":333,"y":650},{"g":"cr3b","x":330,"y":700},{"g":"cr3b","x":325,"y":730},{"g":"cr3b","x":320,"y":720},{"g":"cr3b","x":316,"y":680},{"g":"cr3b","x":316,"y":620},
{"g":"cr4","x":355,"y":495},{"g":"cr4","x":357,"y":480},{"g":"cr4","x":358,"y":500},{"g":"cr4","x":357,"y":520},{"g":"cr4","x":355,"y":495},
{"g":"cr5","x":287,"y":958},{"g":"cr5","x":290,"y":950},{"g":"cr5","x":293,"y":958},{"g":"cr5","x":290,"y":964},{"g":"cr5","x":287,"y":958}
],
"D": [
{"g":"dz","x":1.5,"y":144},{"g":"dz","x":8,"y":143},{"g":"dz","x":9,"y":102},{"g":"dz","x":39,"y":102},{"g":"dz","x":41,"y":155},{"g":"dz","x":42,"y":175},{"g":"dz","x":46,"y":170},{"g":"dz","x":52,"y":172},{"g":"dz","x":60,"y":168},{"g":"dz","x":67,"y":170},{"g":"dz","x":74,"y":165},{"g":"dz","x":85,"y":160},{"g":"dz","x":96,"y":152},{"g":"dz","x":98.5,"y":122},{"g":"dz","x":101.5,"y":102},{"g":"dz","x":104,"y":138},{"g":"dz","x":107,"y":126},{"g":"dz","x":110,"y":102},{"g":"dz","x":112.5,"y":114},{"g":"dz","x":115,"y":138},{"g":"dz","x":118,"y":126},{"g":"dz","x":121,"y":138},{"g":"dz","x":126,"y":144},{"g":"dz","x":135,"y":146},{"g":"dz","x":143,"y":150},{"g":"dz","x":157,"y":156},{"g":"dz","x":170,"y":158},{"g":"dz","x":184,"y":162},{"g":"dz","x":195,"y":166},{"g":"dz","x":206,"y":168},{"g":"dz","x":222,"y":170},{"g":"dz","x":239,"y":168},{"g":"dz","x":255,"y":165},{"g":"dz","x":267,"y":162},{"g":"dz","x":277,"y":156},{"g":"dz","x":280,"y":102},{"g":"dz","x":307,"y":102},{"g":"dz","x":309,"y":144},{"g":"dz","x":310.5,"y":156},{"g":"dz","x":321,"y":150},{"g":"dz","x":338,"y":149},{"g":"dz","x":354,"y":148},{"g":"dz","x":358,"y":148},
{"g":"dt1","x":46,"y":78},{"g":"dt1","x":47,"y":85},{"g":"dt1","x":70,"y":85},{"g":"dt1","x":71,"y":78},
{"g":"dt2","x":144,"y":83},{"g":"dt2","x":200,"y":85},{"g":"dt2","x":277,"y":83},
{"g":"dt3","x":317,"y":78},{"g":"dt3","x":320,"y":85},{"g":"dt3","x":352,"y":85},{"g":"dt3","x":353,"y":78},
{"g":"ddm","x":307,"y":168},{"g":"ddm","x":308.5,"y":162},{"g":"ddm","x":310,"y":168},{"g":"ddm","x":308.5,"y":174},{"g":"ddm","x":307,"y":168},
{"g":"dl1","x":2,"y":790},{"g":"dl1","x":3,"y":720},{"g":"dl1","x":3,"y":600},{"g":"dl1","x":3,"y":420},{"g":"dl1","x":2.5,"y":300},{"g":"dl1","x":4,"y":290},{"g":"dl1","x":5,"y":285},{"g":"dl1","x":6.5,"y":292},{"g":"dl1","x":8,"y":290},{"g":"dl1","x":9,"y":280},{"g":"dl1","x":10,"y":275},{"g":"dl1","x":11,"y":284},{"g":"dl1","x":12,"y":285},{"g":"dl1","x":14,"y":278},{"g":"dl1","x":16,"y":280},{"g":"dl1","x":18,"y":288},{"g":"dl1","x":20,"y":285},{"g":"dl1","x":22,"y":281},{"g":"dl1","x":25,"y":283},{"g":"dl1","x":27,"y":290},{"g":"dl1","x":30,"y":290},{"g":"dl1","x":32,"y":296},{"g":"dl1","x":33,"y":300},{"g":"dl1","x":34,"y":340},{"g":"dl1","x":35,"y":420},{"g":"dl1","x":35.5,"y":500},{"g":"dl1","x":35,"y":580},{"g":"dl1","x":34,"y":640},{"g":"dl1","x":32,"y":690},{"g":"dl1","x":30,"y":705},{"g":"dl1","x":29,"y":680},{"g":"dl1","x":28,"y":650},{"g":"dl1","x":27,"y":630},{"g":"dl1","x":26,"y":620},{"g":"dl1","x":25,"y":632},{"g":"dl1","x":23,"y":628},{"g":"dl1","x":22,"y":612},{"g":"dl1","x":21,"y":605},{"g":"dl1","x":20,"y":618},{"g":"dl1","x":18,"y":615},{"g":"dl1","x":17,"y":604},{"g":"dl1","x":15,"y":600},{"g":"dl1","x":13,"y":616},{"g":"dl1","x":12,"y":622},{"g":"dl1","x":11,"y":632},{"g":"dl1","x":10,"y":640},{"g":"dl1","x":9,"y":655},{"g":"dl1","x":8,"y":668},{"g":"dl1","x":6,"y":700},{"g":"dl1","x":5,"y":750},{"g":"dl1","x":4,"y":785},
{"g":"dl2","x":8,"y":330},{"g":"dl2","x":9,"y":400},{"g":"dl2","x":9,"y":500},{"g":"dl2","x":8.5,"y":570},{"g":"dl2","x":7.5,"y":500},{"g":"dl2","x":7.5,"y":400},{"g":"dl2","x":8,"y":330},
{"g":"dl3","x":17,"y":420},{"g":"dl3","x":19,"y":380},{"g":"dl3","x":22,"y":388},{"g":"dl3","x":24,"y":372},{"g":"dl3","x":27,"y":378},{"g":"dl3","x":29,"y":360},{"g":"dl3","x":30,"y":400},{"g":"dl3","x":31,"y":450},{"g":"dl3","x":31,"y":520},{"g":"dl3","x":30,"y":585},{"g":"dl3","x":29,"y":570},{"g":"dl3","x":27,"y":520},{"g":"dl3","x":25,"y":545},{"g":"dl3","x":22,"y":510},{"g":"dl3","x":20,"y":535},{"g":"dl3","x":18,"y":490},{"g":"dl3","x":17,"y":450},{"g":"dl3","x":17,"y":420},
{"g":"dl4","x":18,"y":400},{"g":"dl4","x":19,"y":450},{"g":"dl4","x":18.5,"y":500},{"g":"dl4","x":19.5,"y":540},
{"g":"dl5","x":34,"y":510},{"g":"dl5","x":42,"y":510},
{"g":"dl0","x":3,"y":933},{"g":"dl0","x":5,"y":905},{"g":"dl0","x":9,"y":860},{"g":"dl0","x":11,"y":866},{"g":"dl0","x":14,"y":855},{"g":"dl0","x":16,"y":860},{"g":"dl0","x":18,"y":850},{"g":"dl0","x":20,"y":856},{"g":"dl0","x":22,"y":842},{"g":"dl0","x":24,"y":835},{"g":"dl0","x":26,"y":866},{"g":"dl0","x":27,"y":860},{"g":"dl0","x":30,"y":852},{"g":"dl0","x":31,"y":872},{"g":"dl0","x":33,"y":878},{"g":"dl0","x":36,"y":870},{"g":"dl0","x":38,"y":905},{"g":"dl0","x":39,"y":933},
{"g":"dl6","x":2,"y":640},{"g":"dl6","x":3.5,"y":690},{"g":"dl6","x":3,"y":720},{"g":"dl6","x":4.5,"y":760},{"g":"dl6","x":4,"y":800},{"g":"dl6","x":6,"y":790},{"g":"dl6","x":6.5,"y":830},
{"g":"dm1","x":57,"y":830},{"g":"dm1","x":55,"y":700},{"g":"dm1","x":55,"y":550},{"g":"dm1","x":56,"y":400},{"g":"dm1","x":58,"y":320},{"g":"dm1","x":62,"y":280},{"g":"dm1","x":64,"y":268},{"g":"dm1","x":66,"y":272},{"g":"dm1","x":68,"y":262},{"g":"dm1","x":71,"y":266},{"g":"dm1","x":74,"y":258},{"g":"dm1","x":77,"y":263},{"g":"dm1","x":80,"y":255},{"g":"dm1","x":83,"y":260},{"g":"dm1","x":86,"y":252},{"g":"dm1","x":89,"y":257},{"g":"dm1","x":92,"y":250},{"g":"dm1","x":95,"y":254},{"g":"dm1","x":98,"y":248},{"g":"dm1","x":101,"y":252},{"g":"dm1","x":105,"y":245},{"g":"dm1","x":108,"y":256},{"g":"dm1","x":110,"y":250},{"g":"dm1","x":113,"y":258},{"g":"dm1","x":115,"y":248},{"g":"dm1","x":118,"y":254},{"g":"dm1","x":122,"y":250},{"g":"dm1","x":125,"y":258},{"g":"dm1","x":128,"y":254},{"g":"dm1","x":130,"y":260},{"g":"dm1","x":133,"y":254},{"g":"dm1","x":136,"y":258},{"g":"dm1","x":138,"y":252},{"g":"dm1","x":141,"y":246},{"g":"dm1","x":144,"y":250},{"g":"dm1","x":148,"y":240},{"g":"dm1","x":151,"y":244},{"g":"dm1","x":154,"y":238},{"g":"dm1","x":158,"y":242},{"g":"dm1","x":161,"y":236},{"g":"dm1","x":165,"y":242},{"g":"dm1","x":168,"y":238},{"g":"dm1","x":172,"y":245},{"g":"dm1","x":176,"y":248},{"g":"dm1","x":179,"y":258},{"g":"dm1","x":183,"y":270},{"g":"dm1","x":186,"y":310},{"g":"dm1","x":187,"y":400},{"g":"dm1","x":188,"y":500},{"g":"dm1","x":188,"y":600},{"g":"dm1","x":187,"y":700},{"g":"dm1","x":187,"y":790},{"g":"dm1","x":184,"y":815},{"g":"dm1","x":180,"y":822},{"g":"dm1","x":176,"y":812},{"g":"dm1","x":172,"y":820},{"g":"dm1","x":168,"y":815},{"g":"dm1","x":164,"y":824},{"g":"dm1","x":160,"y":816},{"g":"dm1","x":156,"y":826},{"g":"dm1","x":152,"y":818},{"g":"dm1","x":148,"y":828},{"g":"dm1","x":144,"y":820},{"g":"dm1","x":140,"y":830},{"g":"dm1","x":136,"y":822},{"g":"dm1","x":132,"y":832},{"g":"dm1","x":128,"y":826},{"g":"dm1","x":124,"y":834},{"g":"dm1","x":120,"y":828},{"g":"dm1","x":116,"y":836},{"g":"dm1","x":112,"y":830},{"g":"dm1","x":108,"y":838},{"g":"dm1","x":104,"y":834},{"g":"dm1","x":100,"y":842},{"g":"dm1","x":96,"y":836},{"g":"dm1","x":92,"y":844},{"g":"dm1","x":88,"y":840},{"g":"dm1","x":84,"y":846},{"g":"dm1","x":80,"y":840},{"g":"dm1","x":76,"y":845},{"g":"dm1","x":72,"y":838},{"g":"dm1","x":68,"y":842},{"g":"dm1","x":64,"y":836},{"g":"dm1","x":60,"y":834},{"g":"dm1","x":57,"y":830},
{"g":"dm2","x":75,"y":400},{"g":"dm2","x":77,"y":340},{"g":"dm2","x":79,"y":328},{"g":"dm2","x":82,"y":318},{"g":"dm2","x":84,"y":322},{"g":"dm2","x":87,"y":310},{"g":"dm2","x":90,"y":305},{"g":"dm2","x":93,"y":310},{"g":"dm2","x":96,"y":300},{"g":"dm2","x":100,"y":304},{"g":"dm2","x":104,"y":298},{"g":"dm2","x":108,"y":310},{"g":"dm2","x":111,"y":306},{"g":"dm2","x":115,"y":320},{"g":"dm2","x":118,"y":316},{"g":"dm2","x":122,"y":330},{"g":"dm2","x":125,"y":336},{"g":"dm2","x":128,"y":345},{"g":"dm2","x":131,"y":332},{"g":"dm2","x":134,"y":320},{"g":"dm2","x":137,"y":312},{"g":"dm2","x":140,"y":305},{"g":"dm2","x":143,"y":309},{"g":"dm2","x":146,"y":300},{"g":"dm2","x":150,"y":304},{"g":"dm2","x":154,"y":298},{"g":"dm2","x":158,"y":302},{"g":"dm2","x":162,"y":300},{"g":"dm2","x":165,"y":306},{"g":"dm2","x":168,"y":310},{"g":"dm2","x":172,"y":330},{"g":"dm2","x":174,"y":400},{"g":"dm2","x":175,"y":460},{"g":"dm2","x":173,"y":520},{"g":"dm2","x":168,"y":560},{"g":"dm2","x":164,"y":566},{"g":"dm2","x":160,"y":572},{"g":"dm2","x":156,"y":568},{"g":"dm2","x":152,"y":578},{"g":"dm2","x":148,"y":574},{"g":"dm2","x":144,"y":584},{"g":"dm2","x":140,"y":580},{"g":"dm2","x":136,"y":588},{"g":"dm2","x":132,"y":580},{"g":"dm2","x":129,"y":594},{"g":"dm2","x":126,"y":600},{"g":"dm2","x":124,"y":615},{"g":"dm2","x":122,"y":625},{"g":"dm2","x":120,"y":632},{"g":"dm2","x":118,"y":640},{"g":"dm2","x":116,"y":628},{"g":"dm2","x":113,"y":620},{"g":"dm2","x":110,"y":634},{"g":"dm2","x":108,"y":640},{"g":"dm2","x":106,"y":652},{"g":"dm2","x":104,"y":660},{"g":"dm2","x":102,"y":668},{"g":"dm2","x":100,"y":670},{"g":"dm2","x":98,"y":655},{"g":"dm2","x":96,"y":640},{"g":"dm2","x":94,"y":622},{"g":"dm2","x":92,"y":600},{"g":"dm2","x":89,"y":588},{"g":"dm2","x":86,"y":570},{"g":"dm2","x":83,"y":556},{"g":"dm2","x":80,"y":540},{"g":"dm2","x":78,"y":520},{"g":"dm2","x":76,"y":500},{"g":"dm2","x":75,"y":450},{"g":"dm2","x":75,"y":400},
{"g":"dm3a","x":93,"y":420},{"g":"dm3a","x":94,"y":360},{"g":"dm3a","x":97,"y":330},{"g":"dm3a","x":100,"y":335},{"g":"dm3a","x":102,"y":380},{"g":"dm3a","x":103,"y":460},{"g":"dm3a","x":102,"y":530},{"g":"dm3a","x":99,"y":560},{"g":"dm3a","x":95,"y":540},{"g":"dm3a","x":93,"y":480},{"g":"dm3a","x":93,"y":420},
{"g":"dm3b","x":110,"y":440},{"g":"dm3b","x":111,"y":380},{"g":"dm3b","x":114,"y":360},{"g":"dm3b","x":117,"y":370},{"g":"dm3b","x":118,"y":430},{"g":"dm3b","x":118,"y":500},{"g":"dm3b","x":117,"y":560},{"g":"dm3b","x":114,"y":585},{"g":"dm3b","x":111,"y":560},{"g":"dm3b","x":110,"y":500},{"g":"dm3b","x":110,"y":440},
{"g":"dm3c","x":133,"y":420},{"g":"dm3c","x":134,"y":360},{"g":"dm3c","x":138,"y":335},{"g":"dm3c","x":141,"y":332},{"g":"dm3c","x":145,"y":328},{"g":"dm3c","x":150,"y":333},{"g":"dm3c","x":155,"y":330},{"g":"dm3c","x":162,"y":338},{"g":"dm3c","x":166,"y":360},{"g":"dm3c","x":167,"y":420},{"g":"dm3c","x":166,"y":480},{"g":"dm3c","x":163,"y":520},{"g":"dm3c","x":159,"y":532},{"g":"dm3c","x":155,"y":540},{"g":"dm3c","x":151,"y":536},{"g":"dm3c","x":148,"y":545},{"g":"dm3c","x":144,"y":540},{"g":"dm3c","x":140,"y":550},{"g":"dm3c","x":135,"y":530},{"g":"dm3c","x":133,"y":480},{"g":"dm3c","x":133,"y":420},
{"g":"dm4a","x":97.5,"y":400},{"g":"dm4a","x":97.5,"y":430},
{"g":"dm4b","x":113.5,"y":410},{"g":"dm4b","x":113.5,"y":440},
{"g":"dm4c","x":143,"y":400},{"g":"dm4c","x":143,"y":420},
{"g":"dmm","x":96,"y":780},{"g":"dmm","x":97,"y":750},{"g":"dmm","x":99,"y":720},{"g":"dmm","x":101,"y":712},{"g":"dmm","x":103,"y":705},{"g":"dmm","x":105,"y":714},{"g":"dmm","x":107,"y":708},{"g":"dmm","x":109,"y":700},{"g":"dmm","x":111,"y":690},{"g":"dmm","x":113,"y":700},{"g":"dmm","x":115,"y":694},{"g":"dmm","x":117,"y":686},{"g":"dmm","x":120,"y":680},{"g":"dmm","x":122,"y":688},{"g":"dmm","x":125,"y":676},{"g":"dmm","x":127,"y":672},{"g":"dmm","x":130,"y":665},{"g":"dmm","x":132,"y":674},{"g":"dmm","x":134,"y":680},{"g":"dmm","x":136,"y":700},{"g":"dmm","x":138,"y":720},{"g":"dmm","x":140,"y":716},{"g":"dmm","x":143,"y":740},{"g":"dmm","x":146,"y":748},{"g":"dmm","x":150,"y":760},{"g":"dmm","x":153,"y":754},{"g":"dmm","x":156,"y":764},{"g":"dmm","x":160,"y":758},{"g":"dmm","x":164,"y":766},{"g":"dmm","x":168,"y":760},{"g":"dmm","x":172,"y":768},{"g":"dmm","x":176,"y":762},{"g":"dmm","x":180,"y":768},{"g":"dmm","x":185,"y":770},
{"g":"dm0","x":95,"y":933},{"g":"dm0","x":96,"y":900},{"g":"dm0","x":97,"y":880},{"g":"dm0","x":99,"y":872},{"g":"dm0","x":100,"y":860},{"g":"dm0","x":102,"y":868},{"g":"dm0","x":104,"y":855},{"g":"dm0","x":106,"y":842},{"g":"dm0","x":108,"y":820},{"g":"dm0","x":110,"y":812},{"g":"dm0","x":112,"y":800},{"g":"dm0","x":113,"y":815},{"g":"dm0","x":114,"y":830},{"g":"dm0","x":116,"y":842},{"g":"dm0","x":118,"y":860},{"g":"dm0","x":120,"y":866},{"g":"dm0","x":122,"y":880},{"g":"dm0","x":124,"y":888},{"g":"dm0","x":126,"y":900},{"g":"dm0","x":128,"y":912},{"g":"dm0","x":130,"y":933},
{"g":"dm0b","x":130,"y":905},{"g":"dm0b","x":133,"y":885},{"g":"dm0b","x":135,"y":870},{"g":"dm0b","x":137,"y":876},{"g":"dm0b","x":140,"y":860},{"g":"dm0b","x":142,"y":872},{"g":"dm0b","x":145,"y":880},{"g":"dm0b","x":147,"y":892},{"g":"dm0b","x":150,"y":905},{"g":"dm0b","x":152,"y":915},{"g":"dm0b","x":155,"y":933},
{"g":"dr1","x":283,"y":700},{"g":"dr1","x":283,"y":600},{"g":"dr1","x":283,"y":500},{"g":"dr1","x":283,"y":400},{"g":"dr1","x":284,"y":290},{"g":"dr1","x":285,"y":260},{"g":"dr1","x":287,"y":272},{"g":"dr1","x":288,"y":280},{"g":"dr1","x":290,"y":270},{"g":"dr1","x":292,"y":275},{"g":"dr1","x":294,"y":286},{"g":"dr1","x":296,"y":282},{"g":"dr1","x":298,"y":292},{"g":"dr1","x":300,"y":300},{"g":"dr1","x":302,"y":296},{"g":"dr1","x":305,"y":310},{"g":"dr1","x":308,"y":302},{"g":"dr1","x":312,"y":305},{"g":"dr1","x":315,"y":296},{"g":"dr1","x":318,"y":298},{"g":"dr1","x":321,"y":304},{"g":"dr1","x":325,"y":300},{"g":"dr1","x":328,"y":292},{"g":"dr1","x":331,"y":300},{"g":"dr1","x":335,"y":295},{"g":"dr1","x":338,"y":303},{"g":"dr1","x":341,"y":296},{"g":"dr1","x":345,"y":300},{"g":"dr1","x":348,"y":310},{"g":"dr1","x":350,"y":320},{"g":"dr1","x":353,"y":400},{"g":"dr1","x":354,"y":500},{"g":"dr1","x":355,"y":600},{"g":"dr1","x":356,"y":680},{"g":"dr1","x":354,"y":720},{"g":"dr1","x":350,"y":760},{"g":"dr1","x":345,"y":775},{"g":"dr1","x":340,"y":790},{"g":"dr1","x":333,"y":795},{"g":"dr1","x":328,"y":780},{"g":"dr1","x":322,"y":750},{"g":"dr1","x":318,"y":730},{"g":"dr1","x":315,"y":700},{"g":"dr1","x":312,"y":680},{"g":"dr1","x":310,"y":690},{"g":"dr1","x":308,"y":650},{"g":"dr1","x":306,"y":664},{"g":"dr1","x":305,"y":660},{"g":"dr1","x":302,"y":648},{"g":"dr1","x":300,"y":650},{"g":"dr1","x":297,"y":636},{"g":"dr1","x":295,"y":640},{"g":"dr1","x":292,"y":628},{"g":"dr1","x":290,"y":620},{"g":"dr1","x":288,"y":632},{"g":"dr1","x":287,"y":640},{"g":"dr1","x":284,"y":680},{"g":"dr1","x":283,"y":700},
{"g":"dr2","x":283,"y":500},{"g":"dr2","x":284,"y":400},{"g":"dr2","x":286,"y":330},{"g":"dr2","x":290,"y":325},{"g":"dr2","x":295,"y":340},{"g":"dr2","x":298,"y":360},{"g":"dr2","x":300,"y":400},{"g":"dr2","x":301,"y":470},{"g":"dr2","x":300,"y":530},{"g":"dr2","x":297,"y":560},{"g":"dr2","x":293,"y":575},{"g":"dr2","x":290,"y":560},{"g":"dr2","x":286,"y":580},{"g":"dr2","x":284,"y":550},{"g":"dr2","x":283,"y":500},
{"g":"dr3","x":287,"y":430},{"g":"dr3","x":288,"y":380},{"g":"dr3","x":291,"y":370},{"g":"dr3","x":294,"y":380},{"g":"dr3","x":295,"y":420},{"g":"dr3","x":294,"y":460},{"g":"dr3","x":291,"y":470},{"g":"dr3","x":288,"y":460},{"g":"dr3","x":287,"y":430},
{"g":"dr4","x":306,"y":400},{"g":"dr4","x":306,"y":450},
{"g":"dr5","x":354,"y":500},{"g":"dr5","x":354.5,"y":580},
{"g":"dr0","x":280,"y":933},{"g":"dr0","x":282,"y":880},{"g":"dr0","x":283,"y":780},{"g":"dr0","x":286,"y":772},{"g":"dr0","x":288,"y":784},{"g":"dr0","x":290,"y":790},{"g":"dr0","x":292,"y":800},{"g":"dr0","x":295,"y":812},{"g":"dr0","x":297,"y":818},{"g":"dr0","x":300,"y":830},{"g":"dr0","x":303,"y":860},{"g":"dr0","x":305,"y":876},{"g":"dr0","x":307,"y":900},{"g":"dr0","x":310,"y":933},
{"g":"drl","x":282.5,"y":300},{"g":"drl","x":283,"y":650}
],
"L": [
{"p":"a","x":10,"y":730,"t":"4"},{"p":"a","x":17,"y":825,"t":"3"},{"p":"a","x":21,"y":905,"t":"2"},{"p":"a","x":138,"y":740,"t":"4"},{"p":"a","x":163,"y":811,"t":"3"},{"p":"a","x":143,"y":892,"t":"2"},{"p":"a","x":272,"y":745,"t":"4"},{"p":"a","x":290,"y":800,"t":"3"},{"p":"a","x":309,"y":690,"t":"3"},{"p":"a","x":318,"y":880,"t":"2"},
{"p":"b","x":28,"y":235,"t":"1"},{"p":"b","x":18,"y":355,"t":"2"},{"p":"b","x":78,"y":654,"t":"4"},{"p":"b","x":141,"y":566,"t":"5"},{"p":"b","x":158,"y":631,"t":"4"},{"p":"b","x":180,"y":749,"t":"3"},{"p":"b","x":203,"y":743,"t":"2"},{"p":"b","x":247,"y":926,"t":"1"},{"p":"b","x":272,"y":855,"t":"2"},{"p":"b","x":291,"y":755,"t":"3"},{"p":"b","x":321,"y":566,"t":"1"},{"p":"b","x":336,"y":890,"t":"2"},
{"p":"c","x":72,"y":500,"t":"−1.5"},{"p":"c","x":84,"y":618,"t":"−1"},{"p":"c","x":147,"y":625,"t":"−1"},{"p":"c","x":80,"y":770,"t":"−1"},{"p":"c","x":128,"y":858,"t":"−1.5"},{"p":"c","x":157,"y":905,"t":"−1"},{"p":"c","x":14,"y":897,"t":"−1"},{"p":"c","x":332,"y":570,"t":"1.5"},{"p":"c","x":322,"y":770,"t":"1"},
{"p":"d","x":211,"y":168,"t":"0"},{"p":"d","x":37,"y":876,"t":"0"},{"p":"d","x":132,"y":894,"t":"0"},{"p":"d","x":11,"y":690,"t":"1"},{"p":"d","x":28.6,"y":414,"t":"2"},{"p":"d","x":92,"y":480,"t":"3"},{"p":"d","x":114,"y":462,"t":"3"},{"p":"d","x":163,"y":420,"t":"3"},{"p":"d","x":292.5,"y":414,"t":"3"},{"p":"d","x":298,"y":522,"t":"2"},{"p":"d","x":319,"y":798,"t":"1"}
]
},
"columns": 2,
"spacing": {"row": 88, "column": 72},
"bounds": "flush",
"concat": [
 {"width": 442, "height": 239,
  "title": {"text": "(a)\u00a0\u00a0\u00a0\u00a0\u00a0\u00a0\u00a0\u00a0\u00a0\u00a0\u00a0\u00a0\u00a0\u00a0\u00a0\u00a0\u00a0\u00a0\u00a0\u00a0\u00a0\u00a0\u00a0Convective heating, C3NEW"},
  "layer": [
   {"data": {"name": "A"}, "transform": [{"window": [{"op": "row_number", "as": "i"}]}],
    "mark": {"type": "line", "stroke": "black", "strokeWidth": 0.9, "clip": true},
    "encoding": {
     "x": {"field": "x", "type": "quantitative", "scale": {"domain": [0, 358], "nice": false, "zero": false}, "axis": {"values": [0,50,100,150,200,250,300,350], "title": null}},
     "y": {"field": "y", "type": "quantitative", "scale": {"domain": [141, 984], "nice": false, "zero": false, "reverse": true}, "axis": {"values": [300,500,700,900], "title": "Pressure (hPa)"}},
     "detail": {"field": "g"}, "order": {"field": "i"}}},
   {"data": {"name": "L"}, "transform": [{"filter": "datum.p == 'a'"}],
    "mark": {"type": "text", "clip": true, "fill": "black"},
    "encoding": {"x": {"field": "x", "type": "quantitative"}, "y": {"field": "y", "type": "quantitative"}, "text": {"field": "t"}}}
  ]},
 {"width": 442, "height": 239,
  "title": {"text": "(b)\u00a0\u00a0\u00a0\u00a0\u00a0\u00a0\u00a0\u00a0\u00a0\u00a0\u00a0\u00a0\u00a0\u00a0\u00a0\u00a0\u00a0\u00a0\u00a0\u00a0\u00a0\u00a0Convective heating, C3OLD"},
  "layer": [
   {"data": {"name": "B"}, "transform": [{"window": [{"op": "row_number", "as": "i"}]}],
    "mark": {"type": "line", "stroke": "black", "strokeWidth": 0.9, "clip": true},
    "encoding": {
     "x": {"field": "x", "type": "quantitative", "scale": {"domain": [0, 358], "nice": false, "zero": false}, "axis": {"values": [0,50,100,150,200,250,300,350], "title": null}},
     "y": {"field": "y", "type": "quantitative", "scale": {"domain": [141, 984], "nice": false, "zero": false, "reverse": true}, "axis": {"values": [300,500,700,900], "title": "Pressure (hPa)"}},
     "detail": {"field": "g"}, "order": {"field": "i"}}},
   {"data": {"name": "L"}, "transform": [{"filter": "datum.p == 'b'"}],
    "mark": {"type": "text", "clip": true, "fill": "black"},
    "encoding": {"x": {"field": "x", "type": "quantitative"}, "y": {"field": "y", "type": "quantitative"}, "text": {"field": "t"}}}
  ]},
 {"width": 442, "height": 239,
  "title": {"text": "(c)\u00a0\u00a0\u00a0\u00a0\u00a0\u00a0\u00a0\u00a0\u00a0\u00a0\u00a0\u00a0\u00a0\u00a0Convective heating, C3NEW−C3OLD"},
  "layer": [
   {"data": {"name": "CF"}, "transform": [{"window": [{"op": "row_number", "as": "i"}]}],
    "mark": {"type": "line", "fill": "#dcdddf", "stroke": "black", "strokeWidth": 3.2, "strokeJoin": "round", "clip": true},
    "encoding": {
     "x": {"field": "x", "type": "quantitative", "scale": {"domain": [0, 358], "nice": false, "zero": false}, "axis": {"values": [0,50,100,150,200,250,300,350], "title": "Longitude"}},
     "y": {"field": "y", "type": "quantitative", "scale": {"domain": [141, 984], "nice": false, "zero": false, "reverse": true}, "axis": {"values": [300,500,700,900], "title": "Pressure (hPa)"}},
     "detail": {"field": "g"}, "order": {"field": "i"}}},
   {"data": {"name": "CW"}, "transform": [{"window": [{"op": "row_number", "as": "i"}]}],
    "mark": {"type": "line", "fill": "white", "stroke": "black", "strokeWidth": 2.5, "clip": true},
    "encoding": {"x": {"field": "x", "type": "quantitative"}, "y": {"field": "y", "type": "quantitative"}, "detail": {"field": "g"}, "order": {"field": "i"}}},
   {"data": {"name": "CT"}, "transform": [{"window": [{"op": "row_number", "as": "i"}]}],
    "mark": {"type": "line", "stroke": "black", "strokeWidth": 3.5, "clip": true},
    "encoding": {"x": {"field": "x", "type": "quantitative"}, "y": {"field": "y", "type": "quantitative"}, "detail": {"field": "g"}, "order": {"field": "i"}}},
   {"data": {"name": "C"}, "transform": [{"window": [{"op": "row_number", "as": "i"}]}],
    "mark": {"type": "line", "stroke": "black", "strokeWidth": 0.8, "clip": true},
    "encoding": {"x": {"field": "x", "type": "quantitative"}, "y": {"field": "y", "type": "quantitative"}, "detail": {"field": "g"}, "order": {"field": "i"}}},
   {"data": {"name": "L"}, "transform": [{"filter": "datum.p == 'c'"}],
    "mark": {"type": "text", "clip": true, "fill": "black"},
    "encoding": {"x": {"field": "x", "type": "quantitative"}, "y": {"field": "y", "type": "quantitative"}, "text": {"field": "t"}}}
  ]},
 {"width": 442, "height": 239,
  "title": {"text": "(d)\u00a0\u00a0\u00a0\u00a0\u00a0\u00a0\u00a0\u00a0\u00a0\u00a0\u00a0\u00a0\u00a0TRMM Convective/Stratiform Heating"},
  "layer": [
   {"layer": [
     {"data": {"name": "D"}, "transform": [{"window": [{"op": "row_number", "as": "i"}]}],
      "mark": {"type": "line", "stroke": "black", "strokeWidth": 1.2, "clip": true},
      "encoding": {
       "x": {"field": "x", "type": "quantitative", "scale": {"domain": [1.25, 358], "nice": false, "zero": false}, "axis": {"values": [50,100,150,200,250,300,350], "title": "Longitude"}},
       "y": {"field": "y", "type": "quantitative", "scale": {"domain": [71, 933], "nice": false, "zero": false, "reverse": true}, "axis": {"values": [100,300,500,700,900], "title": "Pressure (hPa)"}},
       "detail": {"field": "g"}, "order": {"field": "i"}}},
     {"data": {"name": "L"}, "transform": [{"filter": "datum.p == 'd'"}],
      "mark": {"type": "text", "clip": true, "fill": "black"},
      "encoding": {"x": {"field": "x", "type": "quantitative"}, "y": {"field": "y", "type": "quantitative"}, "text": {"field": "t"}}}
   ]},
   {"data": {"values": [{"h": 5}, {"h": 10}, {"h": 15}]},
    "mark": {"type": "point", "opacity": 0},
    "encoding": {"y": {"field": "h", "type": "quantitative", "scale": {"domain": [0.6, 18.1], "nice": false, "zero": false}, "axis": {"orient": "right", "values": [5,10,15], "title": "Height (km)"}}}}
  ],
  "resolve": {"scale": {"y": "independent"}, "axis": {"y": "independent"}}}
]
}
